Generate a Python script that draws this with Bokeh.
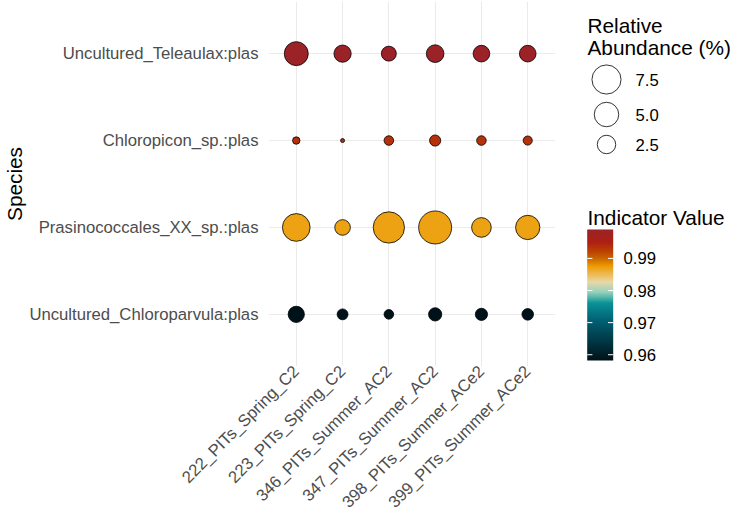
import numpy as np
from bokeh.plotting import figure
from bokeh.models import ColumnDataSource, FactorRange, Range1d, LinearColorMapper
from bokeh.layouts import row
from bokeh.core.properties import value
from bokeh.embed import file_html
from bokeh.resources import INLINE

# ---- data -------------------------------------------------------------
samples = ["222_PITs_Spring_C2", "223_PITs_Spring_C2", "346_PITs_Summer_AC2",
           "347_PITs_Summer_AC2", "398_PITs_Summer_ACe2", "399_PITs_Summer_ACe2"]
species = ["Uncultured_Teleaulax:plas", "Chloropicon_sp.:plas",
           "Prasinococcales_XX_sp.:plas", "Uncultured_Chloroparvula:plas"]

# relative abundance (%) per sample, one list per species
abund_teleaulax = [4.76, 2.10, 1.44, 2.23, 1.92, 1.92]
abund_chloropicon = [0.16, 0.02, 0.39, 0.63, 0.39, 0.33]
abund_prasinococcales = [6.68, 1.63, 8.86, 10.00, 2.93, 4.90]
abund_chloroparvula = [1.80, 0.58, 0.39, 1.03, 0.82, 0.70]

# indicator value per species
indval = [0.9990, 0.9935, 0.9870, 0.9582]

size_breaks = [7.5, 5.0, 2.5]
color_ticks = [0.96, 0.97, 0.98, 0.99]

FONT = "Liberation Sans"
TICK_PX = "16.7px"
TITLE_PX = "20.8px"
H = 522            # page height; legend items are placed from the top
TOP, BOTTOM = 1, 156  # outer borders shared by both panels

# ---- scales -----------------------------------------------------------
abund_rows = [abund_teleaulax, abund_chloropicon, abund_prasinococcales, abund_chloroparvula]
all_abund = np.array(abund_rows, dtype=float)
amin, amax = all_abund.min(), all_abund.max()


def point_diameter(v):
    """Area-style size scale: diameter grows with sqrt of the rescaled value."""
    t = (np.asarray(v, dtype=float) - amin) / (amax - amin)
    return 4.0 + 29.0 * np.sqrt(np.clip(t, 0, 1))


def hex_to_rgb(h):
    h = h.lstrip("#")
    return np.array([int(h[i:i + 2], 16) for i in (0, 2, 4)], dtype=float)


stop_pos = [0.0, 0.30, 0.44, 0.52, 0.60, 0.72, 0.78, 0.84, 0.90, 1.0]
stop_cols = ["#001219", "#005F73", "#0A9396", "#94D2BD", "#E9D8A6",
             "#EE9B00", "#CA6702", "#BB3E03", "#AE2012", "#9B2226"]
rgb = np.array([hex_to_rgb(c) for c in stop_cols])
palette = []
for g in np.linspace(0, 1, 256):
    c = [np.interp(g, stop_pos, rgb[:, k]) for k in range(3)]
    palette.append("#%02x%02x%02x" % tuple(int(round(x)) for x in c))

iv_low, iv_high = min(indval), max(indval)
mapper = LinearColorMapper(palette=palette, low=iv_low, high=iv_high)

# ---- long-format table --------------------------------------------------
xs, ys, ab, iv = [], [], [], []
for sp, vals, v_iv in zip(species, abund_rows, indval):
    for s, a in zip(samples, vals):
        xs.append(s)
        ys.append(sp)
        ab.append(a)
        iv.append(v_iv)
src = ColumnDataSource(dict(sample=xs, species=ys, abund=ab, iv=iv,
                            diam=point_diameter(ab)))

# ---- main bubble panel ---------------------------------------------------
p = figure(width=575, height=H,
           x_range=FactorRange(factors=samples, range_padding=0.1,
                               range_padding_units="absolute"),
           y_range=FactorRange(factors=species[::-1], range_padding=0.1,
                               range_padding_units="absolute"),
           output_backend="svg", toolbar_location=None,
           min_border_left=268, min_border_right=20,
           min_border_top=TOP, min_border_bottom=BOTTOM,
           outline_line_color=None, background_fill_color="white",
           border_fill_color="white")

p.scatter("sample", "species", size="diam", source=src,
          fill_color={"field": "iv", "transform": mapper},
          line_color="black", line_width=0.8)

for g in (p.xgrid, p.ygrid):
    g.grid_line_color = "#EBEBEB"
    g.grid_line_width = 1.1

for ax in (p.xaxis, p.yaxis):
    ax.axis_line_color = None
    ax.major_tick_line_color = None
    ax.minor_tick_line_color = None
    ax.major_tick_in = 0
    ax.major_tick_out = 0
    ax.major_label_text_font = FONT
    ax.major_label_text_font_size = TICK_PX
    ax.major_label_text_color = "#4D4D4D"

p.xaxis.major_label_orientation = np.pi / 4
p.xaxis.major_label_standoff = 2
p.yaxis.major_label_standoff = 10
p.yaxis.axis_label = "Species"
p.yaxis.axis_label_text_font = FONT
p.yaxis.axis_label_text_font_size = TITLE_PX
p.yaxis.axis_label_text_font_style = "normal"
p.yaxis.axis_label_text_color = "black"
p.yaxis.axis_label_standoff = 0

# ---- legends panel -------------------------------------------------------
# y runs in page units measured from the bottom, so H - y_from_top places items
leg = figure(width=158, height=H, x_range=Range1d(0, 158),
             y_range=Range1d(BOTTOM, H - TOP),
             x_axis_type=None, y_axis_type=None, output_backend="svg",
             toolbar_location=None, min_border_left=0, min_border_right=0,
             min_border_top=TOP, min_border_bottom=BOTTOM,
             outline_line_color=None,
             background_fill_color="white", border_fill_color="white")

# size legend
leg.text(x=[12, 12], y=[H - 25, H - 47], text=["Relative", "Abundance (%)"],
         text_font=value(FONT), text_font_size=TITLE_PX, text_color="black",
         text_baseline="alphabetic", text_align="left")

leg_y = [H - 79, H - 114, H - 144]
leg.scatter(x=[31] * len(size_breaks), y=leg_y, size=point_diameter(size_breaks),
            fill_color="white", line_color="black", line_width=0.8)
leg.text(x=[60] * len(size_breaks), y=leg_y, text=["%.1f" % b for b in size_breaks],
         text_font=value(FONT), text_font_size=TICK_PX, text_color="black",
         text_baseline="middle", text_align="left")

# colour bar: gradient image spanning the mapper's limits
bar_x, bar_w = 11.7, 26.0
bar_bottom, bar_h = H - 360, 131.0
gradient = np.linspace(iv_low, iv_high, 256).reshape(256, 1)
leg.image(image=[gradient], x=bar_x, y=bar_bottom, dw=bar_w, dh=bar_h,
          color_mapper=mapper)

tick_y = [bar_bottom + (t - iv_low) / (iv_high - iv_low) * bar_h for t in color_ticks]
tick_len = 5.2
leg.segment(x0=[bar_x] * len(tick_y), y0=tick_y, x1=[bar_x + tick_len] * len(tick_y),
            y1=tick_y, line_color="white", line_width=1)
leg.segment(x0=[bar_x + bar_w - tick_len] * len(tick_y), y0=tick_y,
            x1=[bar_x + bar_w] * len(tick_y), y1=tick_y,
            line_color="white", line_width=1)
leg.text(x=[bar_x + bar_w + 10.3] * len(tick_y), y=tick_y,
         text=["%.2f" % t for t in color_ticks],
         text_font=value(FONT), text_font_size=TICK_PX, text_color="black",
         text_baseline="middle", text_align="left")
leg.text(x=[12], y=[H - 217], text=["Indicator Value"],
         text_font=value(FONT), text_font_size=TITLE_PX, text_color="black",
         text_baseline="alphabetic", text_align="left")

layout = row(p, leg)
open("out.html", "w").write(file_html(layout, INLINE))
